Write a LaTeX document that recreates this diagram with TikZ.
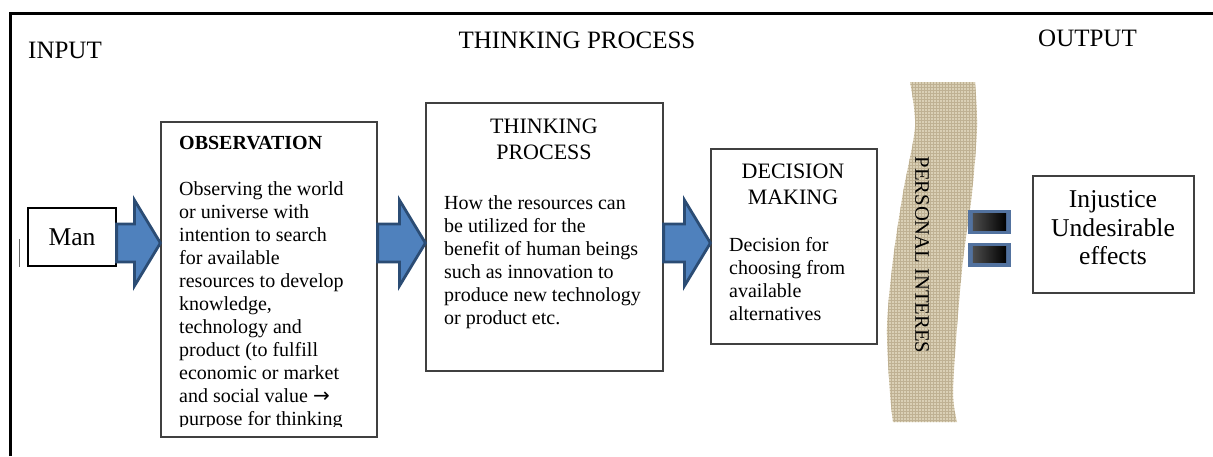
\documentclass[tikz,border=0pt]{standalone}
\usepackage{fontspec}
\setmainfont{Liberation Serif}
\newfontfamily\arrowfont{DejaVu Sans}
\usetikzlibrary{calc,patterns}

\definecolor{arrowfill}{HTML}{4F81BD}
\definecolor{arrowedge}{HTML}{2B4C74}
\definecolor{bandfill}{HTML}{DAD0B6}
\definecolor{bandline}{HTML}{BFB193}
\definecolor{eqedge}{HTML}{52729F}

\begin{document}
\begin{tikzpicture}[x=1pt,y=-1pt,
    box/.style={draw=black!75,line width=1.2pt,inner sep=0pt},
    title/.style={font=\fontsize{25}{30}\selectfont,inner sep=0pt},
    head/.style={font=\fontsize{22}{26}\selectfont,inner sep=0pt,align=center,anchor=north},
    body/.style={font=\fontsize{20}{23}\selectfont,inner sep=0pt,align=left,anchor=north west},
    bigtext/.style={font=\fontsize{25.6}{28.5}\selectfont,inner sep=0pt,align=center},
    blockarrow/.style={draw=arrowedge,fill=arrowfill,line width=2.8pt,line join=miter,
        to path={($(\tikztostart)+(0,-19)$) -- ($(\tikztotarget)+(-26,-19)$)
            -- ($(\tikztotarget)+(-26,-43)$) -- (\tikztotarget)
            -- ($(\tikztotarget)+(-26,43)$) -- ($(\tikztotarget)+(-26,19)$)
            -- ($(\tikztostart)+(0,19)$) -- cycle}},
    eqbar/.style={fill=eqedge,minimum width=43pt,minimum height=24pt,inner sep=0pt}]
\useasboundingbox (0,0) rectangle (1213,456);

\draw[line width=3pt] (10,456) -- (10,13) -- (1213,13);
\draw[black!60,line width=1pt] (19,239) -- (19,267);

\node[title,anchor=base west] (input) at (28,58) {INPUT};
\node[title,anchor=base] (process) at (577,48) {THINKING PROCESS};
\node[title,anchor=base west] (output) at (1038,46) {OUTPUT};

\node[box,draw=black,minimum width=88pt,minimum height=58pt,font=\fontsize{25.6}{29}\selectfont] (man) at (72,237) {Man};
\node[box,minimum width=216pt,minimum height=315pt] (obs) at (269,279.5) {};
\node[box,minimum width=237pt,minimum height=268pt] (think) at (544.5,237) {};
\node[box,minimum width=166pt,minimum height=195pt] (dec) at (794,246.5) {};
\node[box,minimum width=161pt,minimum height=117pt] (out) at (1113.5,234.5) {};

\begin{scope}
\clip (161,122) rectangle (377,426);
\node[body] (obstext) at (179,136.5) {\textbf{OBSERVATION}\\[23pt]
    Observing the world\\or universe with\\intention to search\\for available\\
    resources to develop\\knowledge,\\technology and\\product (to fulfill\\
    economic or market\\and social value {\arrowfont →}\\purpose for thinking};
\end{scope}

\node[head] (thinkhead) at (544,118.4) {THINKING\\PROCESS};
\node[body] (thinktext) at (444,195.3) {How the resources can\\be utilized for the\\
    benefit of human beings\\such as innovation to\\produce new technology\\or product etc.};

\node[head] (dechead) at (793,163.4) {DECISION\\MAKING};
\node[body] (dectext) at (729,237.3) {Decision for\\choosing from\\available\\alternatives};

\node[bigtext,anchor=north] (outtext) at (1113,190.5) {Injustice\\Undesirable\\effects};

\coordinate (mid) at (0,243);
\draw[blockarrow] (man.east |- mid) to (obs.west |- mid);
\draw[blockarrow] (obs.east |- mid) to (think.west |- mid);
\draw[blockarrow] (think.east |- mid) to (dec.west |- mid);

\path[fill=bandfill,postaction={pattern=grid,pattern color=bandline}]
    plot[smooth] coordinates {(910,82) (915,127) (903,193) (893,260) (887,327) (890,393) (893,422)}
    -- plot[smooth] coordinates {(957,422) (953,393) (957,327) (963,260) (972,193) (977,127) (975,82)}
    -- cycle;
\node[rotate=-90,font=\fontsize{20.6}{24}\selectfont,inner sep=0pt] (interest) at (922,255) {PERSONAL INTERES};

\node[eqbar] (eqtop) at (989.5,222) {};
\node[eqbar] (eqbot) at (989.5,254.5) {};
\fill[left color=black!70,right color=black] ($(eqtop.north west)+(5,4)$) rectangle ($(eqtop.south east)+(-5,-4)$);
\fill[left color=black!70,right color=black] ($(eqbot.north west)+(5,4)$) rectangle ($(eqbot.south east)+(-5,-4)$);
\end{tikzpicture}
\end{document}
